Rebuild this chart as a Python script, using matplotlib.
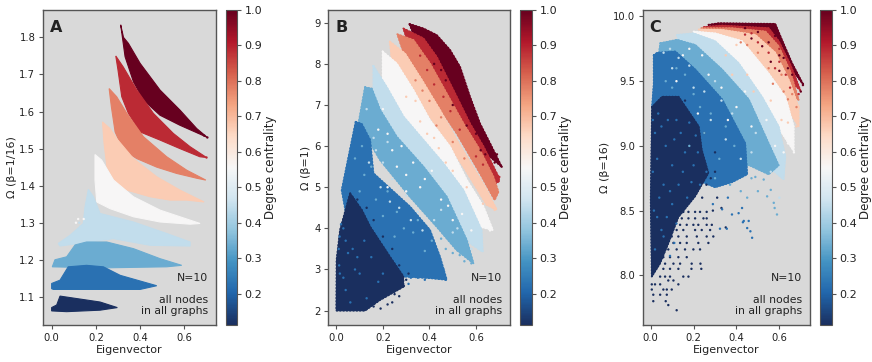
import matplotlib
matplotlib.use("Agg")
import matplotlib.pyplot as plt

W, H = 872, 362

# degree centrality of each class is k/9
degree = [1/9, 2/9, 3/9, 4/9, 5/9, 6/9, 7/9, 8/9, 1.0]
cbar_ticks = [0.2, 0.3, 0.4, 0.5, 0.6, 0.7, 0.8, 0.9, 1.0]

# outlines of the point clouds (eigenvector, omega), one per degree class
A_clouds = [
    [(0, 1.062), (0, 1.071), (.023, 1.078), (.038, 1.102), (.219, 1.086), (.297, 1.071), (.219, 1.064), (.068, 1.06)],
    [(0, 1.122), (0, 1.136), (.038, 1.145), (.075, 1.181), (.158, 1.185), (.234, 1.181), (.31, 1.158), (.475, 1.13), (.4, 1.12), (.008, 1.12)],
    [(.003, 1.181), (.015, 1.2), (.068, 1.208), (.106, 1.24), (.158, 1.248), (.249, 1.248), (.37, 1.23), (.49, 1.203), (.588, 1.185), (.52, 1.181), (.219, 1.178)],
    [(.166, 1.39), (.189, 1.37), (.219, 1.325), (.37, 1.302), (.52, 1.271), (.626, 1.248), (.626, 1.237), (.445, 1.239), (.279, 1.257), (.038, 1.237), (.03, 1.244), (.083, 1.266), (.143, 1.298), (.151, 1.343)],
    [(.196, 1.484), (.226, 1.469), (.28, 1.415), (.37, 1.37), (.49, 1.334), (.671, 1.298), (.626, 1.296), (.49, 1.302), (.37, 1.316), (.264, 1.338), (.204, 1.356), (.196, 1.415)],
    [(.23, 1.572), (.264, 1.554), (.294, 1.527), (.37, 1.473), (.475, 1.424), (.58, 1.388), (.689, 1.356), (.61, 1.361), (.535, 1.361), (.445, 1.37), (.34, 1.388), (.287, 1.41), (.25, 1.451), (.237, 1.514)],
    [(.26, 1.662), (.294, 1.64), (.34, 1.595), (.415, 1.532), (.52, 1.478), (.61, 1.442), (.697, 1.415), (.656, 1.42), (.565, 1.433), (.475, 1.45), (.385, 1.473), (.324, 1.496), (.287, 1.545), (.27, 1.613)],
    [(.29, 1.75), (.324, 1.72), (.385, 1.658), (.46, 1.595), (.55, 1.541), (.626, 1.505), (.7, 1.476), (.67, 1.478), (.58, 1.5), (.49, 1.523), (.4, 1.545), (.347, 1.595), (.317, 1.64), (.3, 1.712)],
    [(.312, 1.834), (.325, 1.80), (.347, 1.784), (.4, 1.73), (.49, 1.658), (.58, 1.604), (.656, 1.554), (.704, 1.53), (.671, 1.539), (.58, 1.563), (.49, 1.59), (.415, 1.631), (.37, 1.68), (.332, 1.748), (.32, 1.80)],
]
B_clouds = [
    [(.059, 4.85), (.016, 3.96), (.001, 3.23), (0, 2.0), (.123, 2.0), (.188, 2.26), (.288, 2.58), (.288, 2.83), (.23, 3.31), (.145, 4.04), (.109, 4.45)],
    [(.083, 6.59), (.109, 6.54), (.145, 6.15), (.159, 5.34), (.316, 4.53), (.402, 3.96), (.445, 3.31), (.474, 2.75), (.402, 2.79), (.288, 2.83), (.159, 3.39), (.044, 4.28), (.023, 4.93)],
    [(.123, 7.43), (.152, 7.4), (.188, 6.88), (.259, 6.23), (.374, 5.5), (.474, 4.77), (.56, 3.72), (.589, 3.15), (.517, 3.47), (.431, 4.04), (.316, 4.77), (.188, 5.66), (.095, 6.55)],
    [(.159, 7.95), (.216, 7.44), (.288, 6.72), (.374, 6.15), (.46, 5.58), (.546, 4.93), (.624, 3.96), (.629, 3.43), (.574, 3.64), (.503, 4.28), (.402, 5.01), (.274, 5.9), (.159, 6.88)],
    [(.199, 8.3), (.259, 8.01), (.331, 7.36), (.402, 6.63), (.488, 5.99), (.56, 5.18), (.632, 4.53), (.672, 3.96), (.617, 4.04), (.531, 4.77), (.417, 5.66), (.288, 6.63), (.199, 7.44)],
    [(.23, 8.54), (.295, 8.25), (.367, 7.61), (.445, 6.88), (.517, 6.15), (.646, 4.93), (.689, 4.45), (.646, 4.57), (.546, 5.5), (.431, 6.47), (.302, 7.53), (.238, 8.09)],
    [(.262, 8.72), (.331, 8.58), (.402, 8.01), (.474, 7.28), (.546, 6.55), (.617, 5.9), (.674, 5.26), (.696, 4.89), (.68, 4.69), (.617, 5.34), (.517, 6.31), (.402, 7.28), (.295, 8.17)],
    [(.288, 8.86), (.374, 8.62), (.431, 8.17), (.503, 7.36), (.574, 6.55), (.632, 5.99), (.696, 5.26), (.70, 5.15), (.66, 5.0), (.574, 5.99), (.474, 6.96), (.374, 7.93), (.302, 8.62)],
    [(.314, 8.97), (.374, 8.86), (.431, 8.7), (.488, 8.34), (.531, 7.93), (.574, 7.2), (.617, 6.55), (.66, 6.07), (.71, 5.5), (.66, 5.74), (.574, 6.55), (.488, 7.44), (.4, 8.17), (.33, 8.74)],
]
C_clouds = [
    [(.006, 9.3), (.053, 9.38), (.13, 9.38), (.224, 9.15), (.238, 8.97), (.269, 8.79), (.207, 8.61), (.129, 8.45), (.083, 8.25), (.043, 8.09), (.005, 7.99), (0, 8.58)],
    [(.014, 9.7), (.03, 9.72), (.115, 9.73), (.208, 9.59), (.333, 9.36), (.441, 9.02), (.45, 8.78), (.38, 8.72), (.3, 8.68), (.2, 8.75), (.146, 8.92), (.006, 9.3), (.014, 9.48)],
    [(.045, 9.794), (.123, 9.82), (.208, 9.78), (.333, 9.59), (.457, 9.36), (.55, 9.02), (.597, 8.85), (.55, 8.78), (.46, 8.85), (.41, 8.85), (.3, 9.02), (.146, 9.36), (.037, 9.64), (.04, 9.74)],
    [(.123, 9.858), (.2, 9.87), (.3, 9.81), (.41, 9.64), (.519, 9.38), (.597, 9.15), (.628, 8.92), (.62, 8.74), (.55, 8.84), (.426, 9.1), (.3, 9.41), (.146, 9.72)],
    [(.2, 9.884), (.3, 9.87), (.426, 9.81), (.55, 9.56), (.628, 9.38), (.667, 9.15), (.667, 8.96), (.612, 9.1), (.519, 9.3), (.41, 9.56), (.3, 9.74), (.208, 9.85)],
    [(.224, 9.9), (.333, 9.897), (.488, 9.858), (.581, 9.72), (.644, 9.51), (.69, 9.3), (.69, 9.15), (.612, 9.36), (.519, 9.61), (.41, 9.77), (.286, 9.85)],
    [(.236, 9.91), (.379, 9.91), (.535, 9.884), (.597, 9.77), (.651, 9.575), (.69, 9.356), (.644, 9.38), (.566, 9.61), (.457, 9.81), (.3, 9.876)],
    [(.247, 9.918), (.333, 9.93), (.55, 9.91), (.597, 9.81), (.651, 9.63), (.698, 9.43), (.644, 9.51), (.566, 9.69), (.457, 9.85), (.3, 9.89)],
    [(.27, 9.936), (.317, 9.948), (.581, 9.943), (.612, 9.82), (.659, 9.64), (.713, 9.47), (.659, 9.59), (.597, 9.74), (.519, 9.87), (.348, 9.92)],
]

# single points that stand out from the clouds: degree class -> [(x, y), ...]
A_points = {
    4: [(.125, 1.3), (.13, 1.29), (.12, 1.28), (.11, 1.26)],
    5: [(.11, 1.3), (.12, 1.31), (.145, 1.31)],
    8: [(.7, 1.476)],
    9: [(.66, 1.545), (.69, 1.535), (.704, 1.53)],
}
B_points = {
    1: [(.03, 3.2), (.02, 3.6), (.06, 2.9), (.12, 3.1), (.09, 2.6), (.22, 2.15), (.16, 2.1), (.25, 2.4), (.29, 2.6), (.1, 3.9), (.05, 4.6), (.17, 3.6),
        (.13, 4.5), (.09, 4.7), (.16, 4.2), (.2, 3.8), (.24, 3.5), (.27, 3.1), (.3, 2.75), (.31, 2.9), (.19, 2.05), (.24, 2.2), (.27, 2.35), (.13, 2.05), (.07, 4.75), (.11, 4.3)],
    2: [(.01, 3.5), (.015, 2.9), (.04, 2.5), (.08, 3.0), (.05, 3.4), (.03, 4.0), (.13, 2.3), (.31, 2.65), (.35, 2.8), (.42, 2.85), (.45, 2.9), (.47, 2.75), (.2, 2.9), (.12, 3.7),
        (.012, 3.1), (.014, 3.8), (.02, 4.1), (.07, 3.5), (.1, 2.9), (.15, 3.3), (.18, 2.7), (.06, 2.2), (.03, 2.8), (.04, 3.7), (.09, 3.3), (.36, 3.0), (.38, 2.75), (.32, 2.8), (.44, 3.1), (.46, 3.0)],
    3: [(.11, 6.0), (.15, 5.5), (.22, 4.9), (.26, 4.4), (.33, 3.9), (.2, 4.3), (.1, 4.9), (.38, 3.45), (.47, 3.5), (.55, 3.2), (.58, 3.15), (.5, 3.4),
        (.12, 5.3), (.08, 5.7), (.17, 4.7), (.29, 4.0), (.25, 3.8), (.35, 4.2), (.41, 3.7), (.45, 3.75), (.53, 3.35), (.14, 6.3)],
    4: [(.2, 5.6), (.24, 5.2), (.3, 4.8), (.16, 6.2), (.35, 4.4), (.42, 4.2), (.58, 3.5), (.62, 3.6), (.6, 3.75), (.5, 3.9), (.13, 6.9), (.19, 5.0),
        (.27, 4.5), (.23, 4.65), (.32, 4.2), (.37, 3.95), (.45, 4.45), (.17, 5.9), (.22, 6.1), (.52, 4.0), (.56, 3.85), (.14, 5.6)],
    5: [(.22, 6.3), (.28, 6.0), (.33, 5.6), (.38, 5.2), (.26, 5.5), (.45, 4.7), (.5, 4.2), (.2, 6.9), (.66, 3.95), (.64, 4.25), (.62, 4.3),
        (.18, 6.4), (.3, 5.3), (.41, 5.4), (.36, 5.0), (.24, 5.9), (.48, 4.55), (.54, 4.35), (.58, 3.95), (.3, 4.9), (.22, 5.0)],
    6: [(.3, 7.2), (.36, 6.6), (.42, 6.2), (.47, 5.6), (.63, 4.6), (.66, 4.7), (.68, 4.45), (.34, 7.1), (.39, 6.3), (.44, 5.95), (.5, 5.4), (.56, 5.0)],
    7: [(.34, 7.6), (.4, 7.1), (.45, 6.7), (.65, 5.2), (.67, 5.0), (.69, 4.85), (.37, 7.35), (.43, 6.5), (.5, 6.1), (.55, 5.7)],
    8: [(.36, 8.2), (.42, 7.5), (.46, 7.2), (.66, 5.6), (.69, 5.2), (.7, 5.25), (.39, 7.85), (.49, 6.85), (.53, 6.4), (.6, 5.75), (.63, 5.55)],
    9: [(.42, 8.0), (.47, 7.6), (.5, 7.0), (.56, 6.5), (.64, 5.8), (.68, 5.6), (.71, 5.5), (.45, 7.85), (.52, 7.45), (.6, 6.3), (.63, 6.15), (.65, 5.95), (.62, 5.9), (.69, 5.8)],
}
# lower edge of panel C, class 1 lies in rows: omega -> eigenvector values
C_rows = {
    8.49: [.129, .152, .176, .207, .23, .261],
    8.44: [.114, .145, .176, .207, .246, .261],
    8.39: [.106, .137, .168, .199, .222, .261, .285],
    8.35: [.121, .152, .207, .238, .277],
    8.30: [.098, .129, .168, .215, .261, .292],
    8.25: [.067, .106, .137, .168, .222, .269],
    8.20: [.082, .121, .16, .199, .23],
    8.14: [.059, .09, .129, .168],
    8.09: [.067, .106, .137, .191, .232],
    8.05: [.059, .09, .129, .19, .236],
    7.99: [.044, .067, .09, .152, .176],
    7.96: [.082, .106],
    7.93: [.005, .02, .044, .129],
    7.89: [.005, .059, .075, .098],
    7.85: [.012, .044, .075],
    7.80: [.012, .07],
    7.77: [.082],
    7.73: [.121],
}
C_points = {
    1: [(om_x, om) for om, xs in C_rows.items() for om_x in xs] + [(.12, 9.3), (.2, 9.2), (.06, 9.35), (.16, 9.35), (.25, 9.1), (.3, 8.95), (.28, 8.75), (.31, 8.6), (.33, 8.52), (.35, 8.37), (.29, 8.5), (.24, 8.6), (.26, 8.7), (.3, 8.8)],
    2: [(.473, 8.29), (.465, 8.34), (.434, 8.42), (.457, 8.42), (.379, 8.47), (.333, 8.51), (.41, 8.48), (.426, 8.52), (.323, 8.36), (.355, 8.36), (.43, 8.41), (.45, 8.365), (.36, 8.6), (.29, 8.55),
        (.03, 8.9), (.06, 8.7), (.1, 8.55), (.14, 9.1), (.2, 8.85), (.08, 9.2), (.17, 8.6), (.05, 8.35), (.11, 8.25), (.22, 8.95), (.26, 8.8), (.12, 8.4), (.09, 8.15), (.02, 9.1),
        (.01, 8.8), (.015, 8.5), (.02, 8.2), (.04, 8.6), (.07, 9.0), (.1, 8.85), (.13, 8.7), (.05, 9.15), (.16, 8.95), (.18, 9.18), (.11, 9.05), (.03, 8.45), (.075, 8.45), (.15, 8.8), (.19, 8.72), (.21, 9.08), (.035, 9.25), (.12, 9.2), (.01, 9.2), (.06, 8.3), (.23, 8.7), (.09, 8.65)],
    3: [(.589, 8.47), (.578, 8.52), (.574, 8.56), (.543, 8.61), (.488, 8.76), (.527, 8.74), (.3, 8.75), (.18, 9.0), (.42, 8.65), (.37, 8.7), (.25, 9.1), (.45, 8.6), (.5, 8.65), (.56, 8.66), (.23, 9.3),
        (.07, 9.5), (.12, 9.6), (.2, 9.4), (.28, 9.25), (.35, 9.15), (.39, 9.0), (.47, 8.75), (.1, 9.45), (.16, 9.55), (.32, 8.9)],
    4: [(.28, 9.2), (.2, 9.45), (.35, 9.05), (.42, 8.9), (.47, 8.95), (.56, 8.8), (.6, 8.6), (.18, 9.62), (.3, 9.5), (.09, 9.75), (.25, 9.42), (.13, 9.68), (.38, 9.25), (.1, 9.6), (.06, 9.72), (.33, 9.35), (.49, 9.1)],
    5: [(.24, 9.7), (.33, 9.45), (.4, 9.3), (.47, 9.15), (.58, 9.0), (.62, 8.95), (.64, 9.02), (.668, 8.95), (.18, 9.75), (.5, 9.5), (.15, 9.7), (.27, 9.55), (.36, 9.2), (.22, 9.25), (.12, 9.5), (.44, 9.42), (.54, 9.2)],
    6: [(.35, 9.7), (.45, 9.55), (.64, 9.18), (.68, 9.15), (.66, 9.25), (.69, 9.3), (.38, 9.55), (.48, 9.42), (.56, 9.35), (.61, 9.2), (.67, 9.35), (.4, 9.78)],
    7: [(.42, 9.8), (.55, 9.6), (.66, 9.4), (.68, 9.3), (.61, 9.55), (.5, 9.72), (.57, 9.48), (.64, 9.36), (.45, 9.78), (.62, 9.42)],
    8: [(.5, 9.8), (.6, 9.65), (.65, 9.45), (.69, 9.4), (.6, 9.75), (.55, 9.72), (.47, 9.87), (.63, 9.55), (.58, 9.6), (.44, 9.86)],
    9: [(.5, 9.88), (.55, 9.8), (.6, 9.7), (.64, 9.6), (.7, 9.42), (.71, 9.47), (.66, 9.55), (.52, 9.77), (.47, 9.83), (.58, 9.85), (.62, 9.68), (.56, 9.65), (.44, 9.91), (.6, 9.58)],
}

panels = [
    # letter, clouds, points, ylabel, yticks, yformat, axes box (px), colorbar box (px), xlim, ylim, fringe
    ("A", A_clouds, A_points, "Ω (β=1/16)", [1.1, 1.2, 1.3, 1.4, 1.5, 1.6, 1.7, 1.8], "%.1f",
     (43, 216), (226, 237), (-0.039, 0.743), (1.024, 1.874), 0.0),
    ("B", B_clouds, B_points, "Ω (β=1)", [2, 3, 4, 5, 6, 7, 8, 9], "%d",
     (328, 510), (520, 532), (-0.036, 0.746), (1.65, 9.31), 1.4),
    ("C", C_clouds, C_points, "Ω (β=16)", [8.0, 8.5, 9.0, 9.5, 10.0], "%.1f",
     (643, 810), (820, 832), (-0.036, 0.743), (7.616, 10.05), 1.3),
]

top, bottom = 10, 325
grey = "#555555"
txt = "#222222"
# RdBu_r with a duller navy end, as in the picture
cmap = matplotlib.colors.LinearSegmentedColormap.from_list("rdbu_pic", [
    "#1a2f5f", "#2166ac", "#4393c3", "#92c5de", "#d1e5f0", "#f7f7f7",
    "#fddbc7", "#f4a582", "#d6604d", "#b2182b", "#67001f"])
norm = matplotlib.colors.Normalize(vmin=degree[0], vmax=degree[-1])

fig = plt.figure(figsize=(W / 100, H / 100), dpi=100)

for letter, clouds, points, ylabel, yticks, yfmt, xbox, cbox, xlim, ylim, fringe in panels:
    ax = fig.add_axes([xbox[0] / W, 1 - bottom / H, (xbox[1] - xbox[0]) / W, (bottom - top) / H])
    ax.set_facecolor("#d9d9d9")

    # high degree first, the lower classes lie on top of them
    for k in range(8, -1, -1):
        col = cmap(norm(degree[k]))
        x, y = zip(*(clouds[k] + clouds[k][:1]))
        ax.fill(x, y, color=col, lw=0.8, zorder=2)
        if fringe:
            # loose dots along the cloud border
            ax.plot(x, y, color=col, lw=fringe, ls=(0, (0.4, 1.3)), dash_capstyle="round", zorder=2)
    for k, pts in points.items():
        x, y = zip(*pts)
        ax.scatter(x, y, c=[degree[k - 1]] * len(x), cmap=cmap, norm=norm, s=3, lw=0, zorder=3)

    ax.set_xlim(xlim)
    ax.set_ylim(ylim)
    ax.set_xticks([0.0, 0.2, 0.4, 0.6])
    ax.set_yticks(yticks)
    ax.yaxis.set_major_formatter(matplotlib.ticker.FormatStrFormatter(yfmt))
    ax.tick_params(labelsize=7.2, length=3, width=0.8, color=grey, labelcolor=txt, pad=2.5)
    ax.set_xlabel("Eigenvector", fontsize=8, color=txt, labelpad=2)
    ax.set_ylabel(ylabel, fontsize=8, color=txt, labelpad=2)
    for s in ax.spines.values():
        s.set_color(grey)
        s.set_linewidth(1.0)

    ax.text(0.04, 0.946, letter, transform=ax.transAxes, fontsize=11.5, fontweight="bold", color=txt, va="center")
    ax.text(0.955, 0.149, "N=10", transform=ax.transAxes, fontsize=7.8, color=txt, ha="right", va="center")
    ax.text(0.955, 0.062, "all nodes\nin all graphs", transform=ax.transAxes, fontsize=7.8, color=txt,
            ha="right", va="center", linespacing=1.2)

    cax = fig.add_axes([cbox[0] / W, 1 - bottom / H, (cbox[1] - cbox[0]) / W, (bottom - top) / H])
    cb = fig.colorbar(matplotlib.cm.ScalarMappable(norm=norm, cmap=cmap), cax=cax)
    cb.set_ticks(cbar_ticks)
    cb.ax.set_yticklabels(["%.1f" % t for t in cbar_ticks])
    cb.ax.tick_params(labelsize=8, length=3, width=0.8, color=grey, labelcolor=txt, pad=2.5)
    cb.set_label("Degree centrality", fontsize=8.5, color=txt, labelpad=1)
    cb.outline.set_edgecolor(grey)
    cb.outline.set_linewidth(0.8)

fig.savefig("out.png", dpi=100)
